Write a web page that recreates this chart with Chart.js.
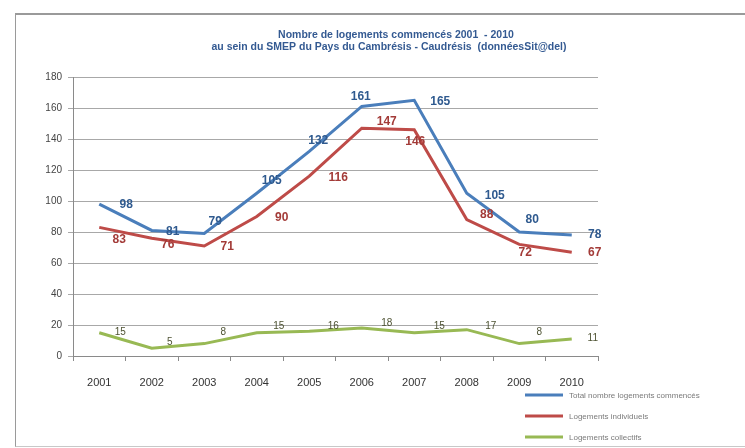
<!DOCTYPE html>
<html>
<head>
<meta charset="utf-8">
<script src="https://cdn.jsdelivr.net/npm/chart.js@4.4.1/dist/chart.umd.min.js"></script>
<style>
  html, body { margin: 0; padding: 0; background: #ffffff; overflow: hidden; }
  #frame { position: absolute; left: 15px; top: 13px; width: 800px; height: 431px;
           border-left: 1px solid #9a9a9a; border-top: 2px solid #9a9a9a; border-bottom: 1px solid #c8c8c8; }
  #wrap { position: absolute; left: 0; top: 0; width: 745px; height: 448px; }
</style>
</head>
<body>
<div id="frame"></div>
<div id="wrap"><canvas id="c" width="745" height="448"></canvas></div>
<script>
const years = ['2001','2002','2003','2004','2005','2006','2007','2008','2009','2010'];
const totalValues = [98, 81, 79, 105, 132, 161, 165, 105, 80, 78];
const individualValues = [83, 76, 71, 90, 116, 147, 146, 88, 72, 67];
const collectiveValues = [15, 5, 8, 15, 16, 18, 15, 17, 8, 11];
const yTicks = [0, 20, 40, 60, 80, 100, 120, 140, 160, 180];
const seriesNames = ['Total nombre logements commencés', 'Logements individuels', 'Logements collectifs'];
const titleLines = ['Nombre de logements commencés 2001  - 2010',
                    'au sein du SMEP du Pays du Cambrésis - Caudrésis  (donnéesSit@del)'];

const decor = {
  id: 'decor',
  afterDatasetsDraw(chart, args, opts) {
    const ctx = chart.ctx;
    ctx.save();
    chart.data.datasets.forEach((ds, di) => {
      const meta = chart.getDatasetMeta(di);
      const offs = opts.offsets[di];
      ctx.font = opts.labelFonts[di];
      ctx.fillStyle = opts.labelColors[di];
      ctx.textAlign = 'center';
      ctx.textBaseline = 'middle';
      meta.data.forEach((pt, i) => {
        const o = offs[i];
        ctx.fillText(String(ds.data[i]), pt.x + o[0], pt.y + o[1]);
      });
    });
    ctx.fillStyle = '#345a92';
    ctx.font = 'bold 10.5px "Liberation Sans", Arial, sans-serif';
    ctx.textAlign = 'center';
    ctx.textBaseline = 'middle';
    ctx.fillText(titleLines[0], 396, 35);
    ctx.fillText(titleLines[1], 389, 47);
    ctx.textAlign = 'left';
    ctx.font = '8px "Liberation Sans", Arial, sans-serif';
    const ly = [395, 416, 437];
    chart.data.datasets.forEach((ds, di) => {
      ctx.strokeStyle = ds.borderColor;
      ctx.lineWidth = 3;
      ctx.beginPath();
      ctx.moveTo(525, ly[di]);
      ctx.lineTo(563, ly[di]);
      ctx.stroke();
      ctx.fillStyle = '#7a7a7a';
      ctx.fillText(ds.label, 569, ly[di] + 0.5);
    });
    ctx.restore();
  }
};

new Chart(document.getElementById('c'), {
  type: 'line',
  data: {
    labels: years,
    datasets: [
      { label: seriesNames[0], data: totalValues, borderColor: '#4a7ebb', borderWidth: 3, pointRadius: 0, tension: 0, fill: false },
      { label: seriesNames[1], data: individualValues, borderColor: '#be4b48', borderWidth: 3, pointRadius: 0, tension: 0, fill: false },
      { label: seriesNames[2], data: collectiveValues, borderColor: '#98b954', borderWidth: 3, pointRadius: 0, tension: 0, fill: false }
    ]
  },
  options: {
    responsive: false,
    animation: false,
    layout: { padding: { left: 20, right: 147, top: 77, bottom: 52 } },
    plugins: {
      legend: { display: false },
      title: { display: false },
      tooltip: { enabled: false },
      decor: {
        labelFonts: ['bold 12px "Liberation Sans", Arial, sans-serif',
                     'bold 12px "Liberation Sans", Arial, sans-serif',
                     '10px "Liberation Sans", Arial, sans-serif'],
        labelColors: ['#2f5a8f', '#a33b38', '#4d5232'],
        offsets: [
          [[27, 1], [21, 1], [11, -12], [15, -13], [9, -11], [-1, -10], [26, 1], [28, 2], [13, -12], [23, 0]],
          [[20, 12], [16, 6], [23, 1], [25, 1], [29, 1], [25, -6], [1, 12], [20, -5], [6, 8], [23, 1]],
          [[21, -1], [18, -6], [19, -11], [22, -7], [24, -5], [25, -5], [25, -7], [24, -3], [20, -11], [21, -1]]
        ]
      }
    },
    scales: {
      x: {
        type: 'category',
        offset: true,
        afterFit(s) { s.height = 40; },
        grid: { display: true, drawOnChartArea: false, drawTicks: true, tickLength: 5, offset: true, color: '#8a8a8a' },
        border: { display: true, color: '#8a8a8a', width: 1 },
        ticks: { color: '#333333', font: { family: '"Liberation Sans", Arial, sans-serif', size: 11 }, padding: 15, maxRotation: 0, autoSkip: false }
      },
      y: {
        min: 0, max: 180,
        afterFit(s) { s.width = 53; },
        afterBuildTicks(s) { s.ticks = yTicks.map(v => ({ value: v })); },
        grid: { color: '#a8a8a8', lineWidth: 1, drawTicks: true, tickLength: 5 },
        border: { display: true, color: '#8a8a8a', width: 1 },
        ticks: { color: '#444444', font: { family: '"Liberation Sans", Arial, sans-serif', size: 10 }, padding: 6 }
      }
    }
  },
  plugins: [decor]
});
</script>
</body>
</html>
